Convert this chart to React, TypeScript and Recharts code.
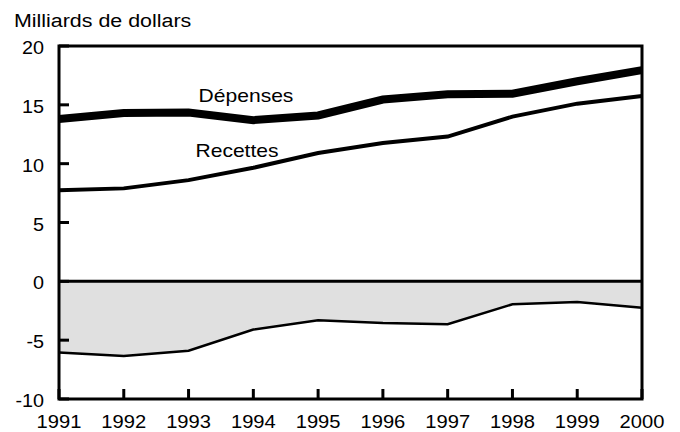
import React from "react";
import {
  ComposedChart,
  Line,
  Area,
  XAxis,
  YAxis,
  ReferenceLine,
  ReferenceArea,
} from "recharts";

const years = [1991, 1992, 1993, 1994, 1995, 1996, 1997, 1998, 1999, 2000];
const depenses = [13.8, 14.3, 14.35, 13.7, 14.1, 15.45, 15.9, 15.95, 17.0, 17.95];
const recettes = [7.75, 7.9, 8.6, 9.65, 10.9, 11.75, 12.3, 14.0, 15.1, 15.75];
const solde = [-6.05, -6.35, -5.9, -4.1, -3.3, -3.55, -3.65, -1.95, -1.75, -2.25];
const yTicks = [-10, -5, 0, 5, 10, 15, 20];

const data = years.map((year, i) => ({
  year,
  depenses: depenses[i],
  recettes: recettes[i],
  solde: solde[i],
}));

const FONT = '"Liberation Sans", Arial, Helvetica, sans-serif';

// the reference type is a bit wider than Arial, so stretch it horizontally
const SText = (props: any) => {
  const { x, y, anchor = "start", sx = 1.17, size = 18, children } = props;
  return (
    <text
      transform={`translate(${x},${y}) scale(${sx},1)`}
      textAnchor={anchor}
      fontFamily={FONT}
      fontSize={size}
      fill="#000"
    >
      {children}
    </text>
  );
};

const LeftTick = (props: any) => {
  const { x, y, payload } = props;
  return (
    <g>
      <line x1={x} x2={x + 10} y1={y} y2={y} stroke="#000" strokeWidth={3} />
      <SText x={x - 15} y={y + 8} anchor="end" sx={1.1}>
        {payload.value}
      </SText>
    </g>
  );
};

const RightTick = (props: any) => {
  const { x, y } = props;
  return <line x1={x} x2={x - 10} y1={y} y2={y} stroke="#000" strokeWidth={3} />;
};

const BottomTick = (props: any) => {
  const { x, y, payload } = props;
  return (
    <g>
      <line x1={x} x2={x} y1={y} y2={y - 10} stroke="#000" strokeWidth={3} />
      <SText x={x} y={y + 29} anchor="middle" sx={1.12}>
        {payload.value}
      </SText>
    </g>
  );
};

export default function App() {
  return (
    <div style={{ position: "absolute", left: 0, top: 0, background: "#fff" }}>
      <ComposedChart
        width={680}
        height={432}
        data={data}
        margin={{ top: 46, right: 38, left: 0, bottom: 0 }}
      >
        <XAxis
          dataKey="year"
          type="number"
          domain={[1991, 2000]}
          ticks={years}
          interval={0}
          height={33}
          tickSize={0}
          tickMargin={0}
          axisLine={false}
          tickLine={false}
          tick={<BottomTick />}
        />
        <YAxis
          yAxisId="l"
          type="number"
          domain={[-10, 20]}
          ticks={yTicks}
          interval={0}
          width={59}
          tickSize={0}
          tickMargin={0}
          axisLine={false}
          tickLine={false}
          tick={<LeftTick />}
        />
        <YAxis
          yAxisId="r"
          orientation="right"
          type="number"
          domain={[-10, 20]}
          ticks={yTicks}
          interval={0}
          width={0}
          tickSize={0}
          tickMargin={0}
          axisLine={false}
          tickLine={false}
          tick={<RightTick />}
        />
        <Area
          yAxisId="l"
          dataKey="solde"
          type="linear"
          baseValue={0}
          fill="#e0e0e0"
          fillOpacity={1}
          stroke="#000"
          strokeWidth={2.5}
          isAnimationActive={false}
        />
        <Line
          yAxisId="l"
          dataKey="recettes"
          type="linear"
          stroke="#000"
          strokeWidth={4}
          dot={false}
          isAnimationActive={false}
        />
        <Line
          yAxisId="l"
          dataKey="depenses"
          type="linear"
          stroke="#000"
          strokeWidth={8}
          dot={false}
          isAnimationActive={false}
        />
        <ReferenceLine yAxisId="l" y={0} stroke="#000" strokeWidth={3} />
        <ReferenceArea
          yAxisId="l"
          x1={1991}
          x2={2000}
          y1={-10}
          y2={20}
          fill="none"
          stroke="#000"
          strokeWidth={3}
          ifOverflow="visible"
        />
        <SText x={14} y={27} sx={1.19}>
          Milliards de dollars
        </SText>
        <SText x={246} y={102} anchor="middle">
          Dépenses
        </SText>
        <SText x={237} y={157} anchor="middle">
          Recettes
        </SText>
        <SText x={231} y={313} anchor="middle">
          Solde
        </SText>
      </ComposedChart>
    </div>
  );
}
